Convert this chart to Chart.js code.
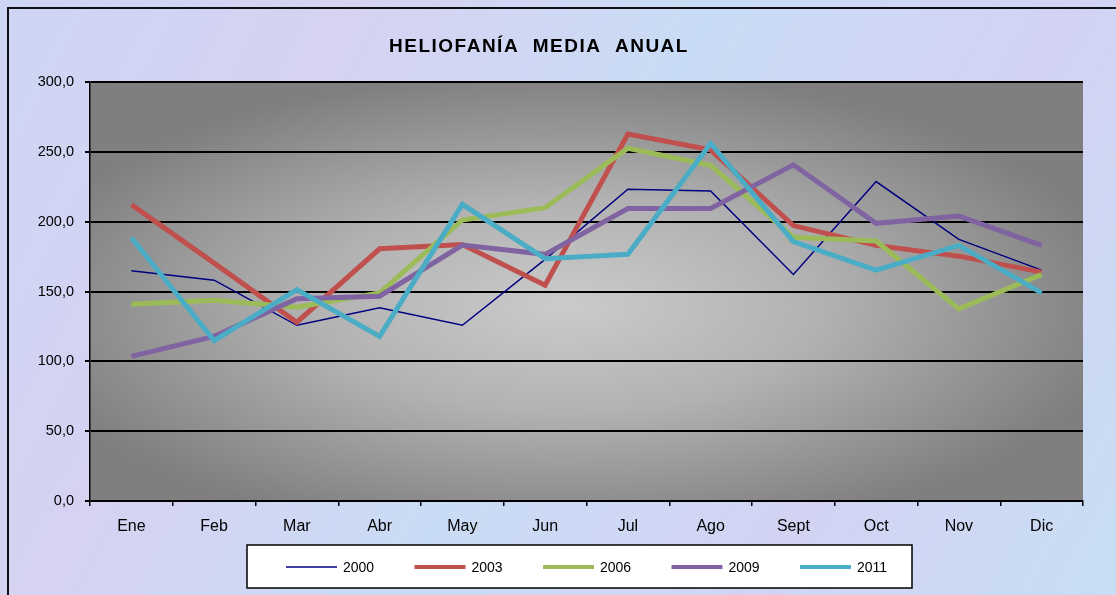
<!DOCTYPE html>
<html>
<head>
<meta charset="utf-8">
<script src="https://cdn.jsdelivr.net/npm/chart.js@4/dist/chart.umd.min.js"></script>
<style>
  html, body { margin: 0; padding: 0; }
  body { width: 1116px; height: 595px; overflow: hidden; }
  canvas { display: block; }
</style>
</head>
<body>
<canvas id="chart" width="1116" height="595"></canvas>
<script>
// Heliofanía media anual
const months = ['Ene', 'Feb', 'Mar', 'Abr', 'May', 'Jun', 'Jul', 'Ago', 'Sept', 'Oct', 'Nov', 'Dic'];
const years = ['2000', '2003', '2006', '2009', '2011'];
const y2000 = [164.8, 158.1, 125.8, 138.3, 125.8, 173.0, 223.2, 222.0, 162.2, 228.7, 187.3, 165.3];
const y2003 = [212.2, 170.3, 128.0, 180.6, 183.7, 154.5, 262.7, 251.4, 197.2, 183.0, 175.3, 163.9];
const y2006 = [140.9, 143.8, 138.7, 149.0, 201.2, 210.0, 252.6, 240.4, 188.9, 186.1, 137.6, 162.2];
const y2009 = [103.6, 117.9, 144.8, 146.6, 183.2, 176.6, 209.4, 209.4, 240.7, 198.8, 204.0, 183.0];
const y2011 = [188.5, 114.8, 151.4, 117.9, 212.4, 173.5, 176.6, 256.0, 185.8, 165.3, 183.0, 149.0];
const yTicks = [0, 50, 100, 150, 200, 250, 300];

const seriesData = [y2000, y2003, y2006, y2009, y2011];
const colors = ['#000080', '#C0504D', '#9BBB59', '#8064A2', '#4BACC6'];
const widths = [1.5, 5, 5, 5, 5];

const fontFam = 'Arial, "Liberation Sans", sans-serif';

// background, plot gradient, title and legend box
const decor = {
  id: 'decor',
  beforeDraw(chart) {
    const ctx = chart.ctx;
    const W = chart.width, H = chart.height;
    ctx.save();
    let g = ctx.createLinearGradient(0, 0, W, H);
    g.addColorStop(0, '#cdd6f4');
    g.addColorStop(0.25, '#d6d2f2');
    g.addColorStop(0.5, '#c9dcf5');
    g.addColorStop(0.75, '#d3d3f3');
    g.addColorStop(1, '#c7def4');
    ctx.fillStyle = g;
    ctx.fillRect(0, 0, W, H);
    // frame
    ctx.strokeStyle = '#111';
    ctx.lineWidth = 2;
    ctx.beginPath();
    ctx.moveTo(8, H + 5);
    ctx.lineTo(8, 8);
    ctx.lineTo(W + 5, 8);
    ctx.stroke();
    // plot area
    const a = chart.chartArea;
    const cx = (a.left + a.right) / 2 - 20, cy = (a.top + a.bottom) / 2 + 15;
    const rg = ctx.createRadialGradient(0, 0, 0, 0, 0, 560);
    rg.addColorStop(0, '#cbcbcb');
    rg.addColorStop(0.45, '#b2b2b2');
    rg.addColorStop(1, '#7f7f7f');
    ctx.save();
    ctx.beginPath();
    ctx.rect(a.left, a.top, a.right - a.left, a.bottom - a.top);
    ctx.clip();
    ctx.translate(cx, cy);
    ctx.scale(1, 0.42);
    ctx.fillStyle = rg;
    ctx.fillRect(-2000, -2000, 4000, 4000);
    ctx.restore();
    // title
    ctx.fillStyle = '#000';
    ctx.font = 'bold 19px ' + fontFam;
    ctx.letterSpacing = '1.5px';
    ctx.textAlign = 'center';
    ctx.textBaseline = 'middle';
    ctx.fillText('HELIOFANÍA  MEDIA  ANUAL', 539, 47);
    ctx.letterSpacing = '0px';
    ctx.restore();
  },
  afterDraw(chart) {
    const ctx = chart.ctx;
    ctx.save();
    // legend box
    ctx.fillStyle = '#fff';
    ctx.fillRect(247, 545, 665, 43);
    ctx.strokeStyle = '#000';
    ctx.lineWidth = 1.5;
    ctx.strokeRect(247, 545, 665, 43);
    ctx.font = '14px ' + fontFam;
    ctx.textAlign = 'left';
    ctx.textBaseline = 'middle';
    const y = 567;
    chart.data.datasets.forEach((ds, i) => {
      const x0 = 286 + i * 128.5;
      ctx.strokeStyle = ds.borderColor;
      ctx.lineWidth = i === 0 ? 1.5 : 4;
      ctx.beginPath();
      ctx.moveTo(x0, y);
      ctx.lineTo(x0 + 51, y);
      ctx.stroke();
      ctx.fillStyle = '#000';
      ctx.fillText(ds.label, x0 + 57, y + 1);
    });
    ctx.restore();
  }
};

new Chart(document.getElementById('chart'), {
  type: 'line',
  data: {
    labels: months,
    datasets: years.map((yr, i) => ({
      label: yr,
      data: seriesData[i],
      borderColor: colors[i],
      backgroundColor: colors[i],
      borderWidth: widths[i],
      pointRadius: 0,
      tension: 0,
      fill: false,
      order: years.length - 1 - i
    }))
  },
  options: {
    responsive: false,
    animation: false,
    maintainAspectRatio: false,
    layout: { padding: { left: 0, top: 82, right: 33, bottom: 0 } },
    plugins: {
      legend: { display: false },
      title: { display: false },
      tooltip: { enabled: false }
    },
    scales: {
      x: {
        offset: true,
        afterFit(scale) { scale.height = 94; },
        grid: {
          offset: true,
          drawOnChartArea: false,
          drawTicks: true,
          tickLength: 5,
          color: '#000',
          lineWidth: 1.5
        },
        border: { color: '#000', width: 1.5 },
        ticks: {
          color: '#000',
          font: { family: fontFam, size: 16 },
          padding: 11,
          maxRotation: 0
        }
      },
      y: {
        min: 0,
        max: 300,
        afterFit(scale) { scale.width = 90; },
        afterBuildTicks(scale) { scale.ticks = yTicks.map(v => ({ value: v })); },
        grid: {
          color: '#000',
          lineWidth: 2,
          drawTicks: true,
          tickLength: 5
        },
        border: { color: '#000', width: 1.5 },
        ticks: {
          color: '#000',
          font: { family: fontFam, size: 14.5 },
          padding: 11,
          callback: v => v.toFixed(1).replace('.', ',')
        }
      }
    }
  },
  plugins: [decor]
});
</script>
</body>
</html>
